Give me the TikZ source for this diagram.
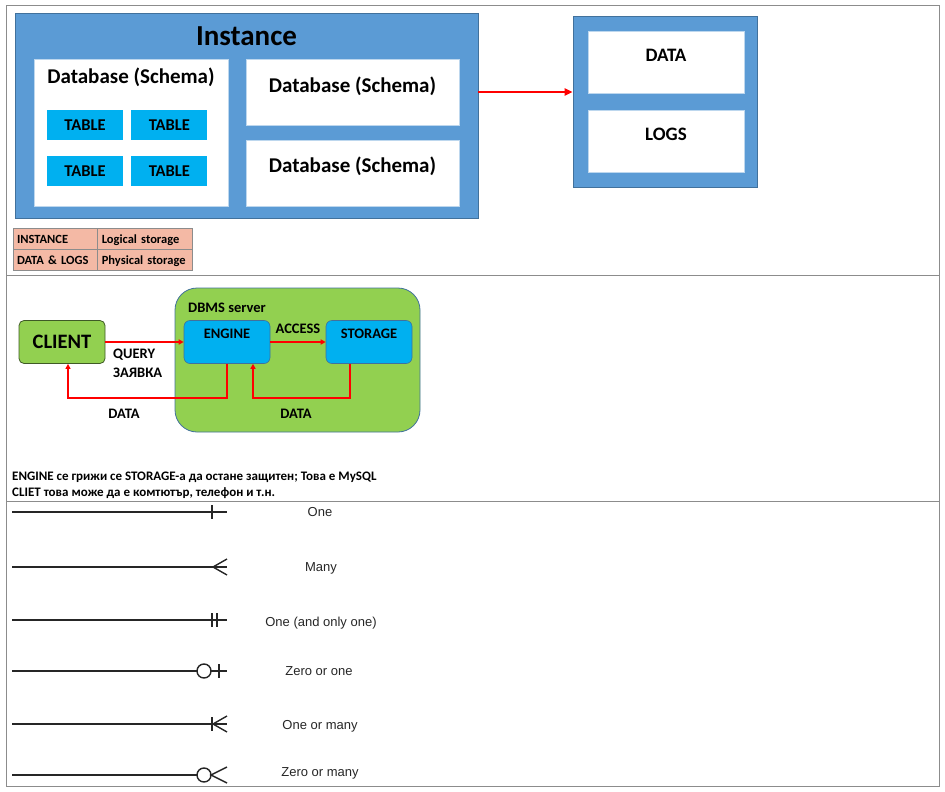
\documentclass[tikz,border=0pt]{standalone}
\usepackage{fontspec}
\setmainfont{Carlito}
\newfontfamily\arialfont{Liberation Sans}
\usepackage{tikz}
\usetikzlibrary{
    positioning,     % For relative node placement
    arrows.meta,     % For the red arrow tips
    calc             % For shifted anchors
}
\definecolor{instblue}{HTML}{5B9BD5}
\definecolor{instborder}{HTML}{41719C}
\definecolor{boxedge}{HTML}{BDD7EE}
\definecolor{tablecyan}{HTML}{00B0F0}
\definecolor{legendfill}{HTML}{F4B9A5}
\definecolor{legendedge}{HTML}{8C8C8C}
\definecolor{servergreen}{HTML}{92D050}
\definecolor{clientedge}{HTML}{3F5A26}
\definecolor{frameline}{HTML}{8C8C8C}
\definecolor{erline}{HTML}{262626}
\definecolor{arrowred}{HTML}{FF0000}

\begin{document}
\begin{tikzpicture}[x=1pt, y=-1pt]

    % --- Style Definitions ---
    \tikzset{
        bluebox/.style={
            rectangle,
            fill=instblue,
            draw=instborder,
            line width=0.8pt,
            inner sep=0pt
        },
        whitebox/.style={
            rectangle,
            fill=white,
            draw=boxedge,
            line width=0.5pt,
            inner sep=0pt
        },
        tablebox/.style={
            rectangle,
            fill=tablecyan,
            inner sep=0pt,
            minimum width=76pt,
            minimum height=30pt,
            font=\fontsize{16.5}{18}\selectfont\bfseries
        },
        cell/.style={
            rectangle,
            fill=legendfill,
            draw=legendedge,
            line width=0.8pt,
            inner xsep=4pt, inner ysep=0pt,
            minimum height=21pt,
            text height=9pt, text depth=0pt,
            align=left,
            font=\fontsize{12.5}{14}\selectfont\bfseries
        },
        greenbox/.style={
            rectangle,
            rounded corners=5pt,
            fill=servergreen,
            draw=clientedge,
            line width=0.8pt,
            minimum width=86pt,
            minimum height=43pt,
            inner sep=0pt
        },
        cyanbox/.style={
            rectangle,
            rounded corners=6pt,
            fill=tablecyan,
            draw=instborder,
            line width=0.6pt,
            minimum width=86pt,
            minimum height=43pt,
            inner sep=0pt
        },
        bigfont/.style={font=\fontsize{21}{25}\selectfont\bfseries},
        midfont/.style={font=\fontsize{14.5}{17}\selectfont\bfseries},
        notefont/.style={font=\fontsize{13}{15}\selectfont\bfseries},
        erfont/.style={font=\arialfont\fontsize{13}{15}\selectfont, text=erline},
        redarrow/.style={
            -{Triangle[length=5pt, width=5pt]},
            line width=2pt,
            draw=arrowred
        },
        frame/.style={draw=frameline, line width=1pt},
        erpath/.style={draw=erline, line width=1.4pt}
    }

    \useasboundingbox (0,0) rectangle (945,792);

    % --- Frame ---
    \draw[frame] (6,6) rectangle (939,786);
    \draw[frame] (6,275) -- (939,275);
    \draw[frame] (6,501) -- (939,501);

    % --- Instance with databases ---
    \node[bluebox, minimum width=463pt, minimum height=205pt,
          label={[anchor=base, yshift=-33pt, font=\fontsize{29}{32}\selectfont\bfseries]north:Instance}]
          (inst) at (246.5,115.5) {};

    \node[whitebox, minimum width=194pt, minimum height=147pt,
          label={[anchor=base, yshift=-25pt, bigfont]north:Database (Schema)}]
          (dbmain) at (131,132.5) {};

    \node[tablebox] (tab1) at (85,125) {TABLE};
    \node[tablebox, right=8pt of tab1] (tab2) {TABLE};
    \node[tablebox, below=16pt of tab1] (tab3) {TABLE};
    \node[tablebox, right=8pt of tab3] (tab4) {TABLE};

    \node[whitebox, minimum width=213pt, minimum height=66pt,
          label={[anchor=base, yshift=-34pt, bigfont]north:Database (Schema)}]
          (dbA) at (352.5,92) {};
    \node[whitebox, minimum width=213pt, minimum height=66pt,
          label={[anchor=base, yshift=-33pt, bigfont]north:Database (Schema)}]
          (dbB) at (352.5,173) {};

    % --- Physical storage ---
    \node[bluebox, minimum width=184pt, minimum height=171pt] (store) at (665,101.5) {};
    \node[whitebox, minimum width=156pt, minimum height=62pt,
          label={[anchor=base, yshift=-31pt, font=\fontsize{19}{22}\selectfont\bfseries]north:DATA}]
          (datafile) at (666,62) {};
    \node[whitebox, minimum width=156pt, minimum height=62pt,
          label={[anchor=base, yshift=-31pt, font=\fontsize{19}{22}\selectfont\bfseries]north:LOGS}]
          (logfile) at (666,141) {};

    \draw[redarrow, line width=2.2pt, -{Triangle[length=8pt, width=7pt]}]
        (dbA.center -| inst.east) -- (dbA.center -| store.west);

    % --- Legend table ---
    \node[cell, text width=76pt] (lgA) at (55,238.5) {INSTANCE};
    \node[cell, text width=87pt, right=0pt of lgA] (lgB) {Logical storage};
    \node[cell, text width=76pt, below=0pt of lgA] (lgC) {DATA \& LOGS};
    \node[cell, text width=87pt, right=0pt of lgC] (lgD) {Physical storage};

    % --- Client and DBMS server ---
    \node[greenbox, font=\fontsize{20.5}{24}\selectfont\bfseries] (client) at (62,342) {CLIENT};

    \node[greenbox, rounded corners=22pt, draw=instborder, minimum width=245pt,
          minimum height=144pt] (server) at (297.5,360) {};
    \node[midfont, anchor=base west, inner sep=0pt] (serverlabel) at (188,312) {DBMS server};

    \node[cyanbox, label={[anchor=base, yshift=-18.5pt, midfont]north:ENGINE}]
          (engine) at (227,342) {};
    \node[cyanbox, label={[anchor=base, yshift=-18.5pt, midfont]north:STORAGE}]
          (storage) at (369,342) {};

    % 1. Requests
    \draw[redarrow] (client) -- (engine);
    \draw[redarrow] (engine) -- (storage);
    \node[midfont, anchor=base] (accesslabel) at (298,333) {ACCESS};
    \node[midfont, anchor=base west, inner sep=0pt] (querylabel) at (113,358) {QUERY};
    \node[midfont, anchor=base west, inner sep=0pt] (zaqvka) at (113,377) {ЗАЯВКА};

    % 2. Returned data
    \draw[redarrow] (engine.south) -- ++(0,34.5) -| ($(client.south)+(6,0)$);
    \draw[redarrow] ($(storage.south)+(-19,0)$) -- ++(0,34.5) -| ($(engine.south)+(26,0)$);
    \node[midfont, anchor=base] (dataleft) at (124,418) {DATA};
    \node[midfont, anchor=base] (dataright) at (296,418) {DATA};

    % --- Notes ---
    \node[notefont, anchor=base west, inner sep=0pt]
          (noteA) at (12,480) {ENGINE се грижи се STORAGE-а да остане защитен; Това е MySQL};
    \node[notefont, anchor=base west, inner sep=0pt]
          (noteB) at (12,496) {CLIET това може да е комтютър, телефон и т.н.};

    % --- Relationship notation ---
    % One
    \draw[erpath] (12,512) -- (227,512);
    \draw[erpath] (212,505) -- (212,519);
    \node[erfont, anchor=base] (one) at (320,516) {One};

    % Many
    \draw[erpath] (12,567) -- (227,567);
    \draw[erpath] (227,559) -- (213,567) -- (227,575);
    \node[erfont, anchor=base] (many) at (321,571) {Many};

    % One (and only one)
    \draw[erpath] (12,620) -- (227,620);
    \draw[erpath] (212,613) -- (212,627);
    \draw[erpath] (217,613) -- (217,627);
    \node[erfont, anchor=base] (onlyone) at (321,626) {One (and only one)};

    % Zero or one
    \draw[erpath] (12,671) -- (197,671);
    \draw[erpath] (204,671) circle (7);
    \draw[erpath] (211,671) -- (227,671);
    \draw[erpath] (219,664) -- (219,678);
    \node[erfont, anchor=base] (zeroone) at (319,675) {Zero or one};

    % One or many
    \draw[erpath] (12,724) -- (227,724);
    \draw[erpath] (212,717) -- (212,731);
    \draw[erpath] (227,716) -- (213,724) -- (227,732);
    \node[erfont, anchor=base] (onemany) at (320,729) {One or many};

    % Zero or many
    \draw[erpath] (12,775) -- (197,775);
    \draw[erpath] (204,775) circle (7);
    \draw[erpath] (227,767) -- (211,775) -- (227,783);
    \node[erfont, anchor=base] (zeromany) at (320,776) {Zero or many};

\end{tikzpicture}
\end{document}
